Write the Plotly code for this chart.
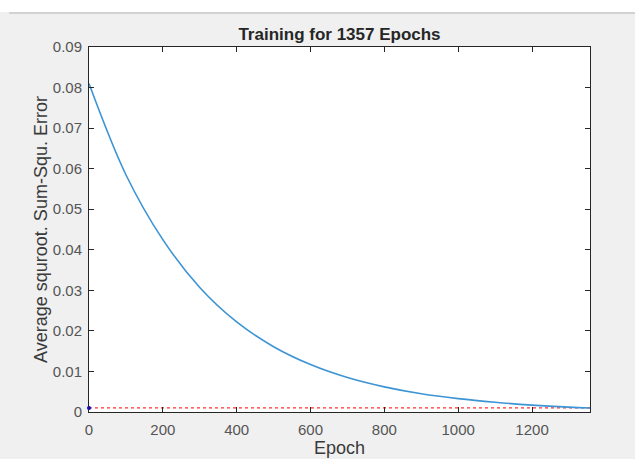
import plotly.graph_objects as go

# Data
epochs = [0, 100, 200, 300, 400, 500, 600, 700, 800, 900, 1000, 1100, 1200, 1300, 1357]
error_values = [0.081, 0.0585, 0.0425, 0.0307, 0.0222, 0.0161, 0.0117, 0.0085,
                0.0062, 0.0045, 0.0033, 0.0024, 0.0017, 0.0012, 0.0010]
goal_value = 0.001
total_epochs = 1357
x_ticks = [0, 200, 400, 600, 800, 1000, 1200]
y_ticks = [0, 0.01, 0.02, 0.03, 0.04, 0.05, 0.06, 0.07, 0.08, 0.09]
y_tick_labels = ["0", "0.01", "0.02", "0.03", "0.04", "0.05", "0.06", "0.07", "0.08", "0.09"]

FONT = "Liberation Sans, Arial, Helvetica, sans-serif"

fig = go.Figure()

fig.add_trace(go.Scatter(
    x=[0, total_epochs], y=[goal_value, goal_value], mode="lines",
    line=dict(color="#ff3030", width=1.3, dash="dot"), showlegend=False,
))
fig.add_trace(go.Scatter(
    x=epochs, y=error_values, mode="lines",
    line=dict(color="#3d94d4", width=1.6, shape="spline"), showlegend=False,
))
fig.add_trace(go.Scatter(
    x=[0], y=[goal_value], mode="markers",
    marker=dict(color="#0000ff", size=4), showlegend=False, cliponaxis=False,
))

axis_font = dict(family=FONT, size=15, color="#555555")

fig.update_layout(
    width=635, height=459,
    margin=dict(l=89, r=45, t=47, b=47),
    paper_bgcolor="#f0f0f0",
    plot_bgcolor="#ffffff",
    title=dict(text="<b>Training for 1357 Epochs</b>", xref="paper", x=0.5, xanchor="center",
               y=1 - 34 / 459, yanchor="middle",
               font=dict(family=FONT, size=17, color="#262626")),
    xaxis=dict(
        range=[0, total_epochs], tickvals=x_ticks, ticks="inside", ticklen=5,
        tickcolor="#262626", showline=True, linecolor="#262626", linewidth=1, mirror="ticks",
        showgrid=False, zeroline=False, tickfont=axis_font, ticklabelstandoff=4,
        automargin=False,
        title=dict(text="Epoch", standoff=4,
                   font=dict(family=FONT, size=18, color="#3a3a3a")),
    ),
    yaxis=dict(
        range=[0, 0.09], tickvals=y_ticks, ticktext=y_tick_labels, ticks="inside", ticklen=5,
        tickcolor="#262626", showline=True, linecolor="#262626", linewidth=1, mirror="ticks",
        showgrid=False, zeroline=False, tickfont=axis_font, ticklabelstandoff=3,
        automargin=False,
        title=dict(text="Average squroot. Sum-Squ. Error", standoff=0,
                   font=dict(family=FONT, size=18, color="#3a3a3a")),
    ),
    shapes=[
        dict(type="rect", xref="paper", yref="paper", x0=-89 / 501, x1=1 + 45 / 501,
             y0=1 + 35 / 365, y1=1 + 47 / 365, fillcolor="#ffffff", line=dict(width=0), layer="below"),
        dict(type="line", xref="paper", yref="paper", x0=-80 / 501, x1=1 + 45 / 501,
             y0=1 + 34 / 365, y1=1 + 34 / 365, line=dict(color="#c8c8c8", width=1.5)),
    ],
)

fig.write_html("out.html", config={"displayModeBar": False},
               post_script="document.body.style.margin='0';")
